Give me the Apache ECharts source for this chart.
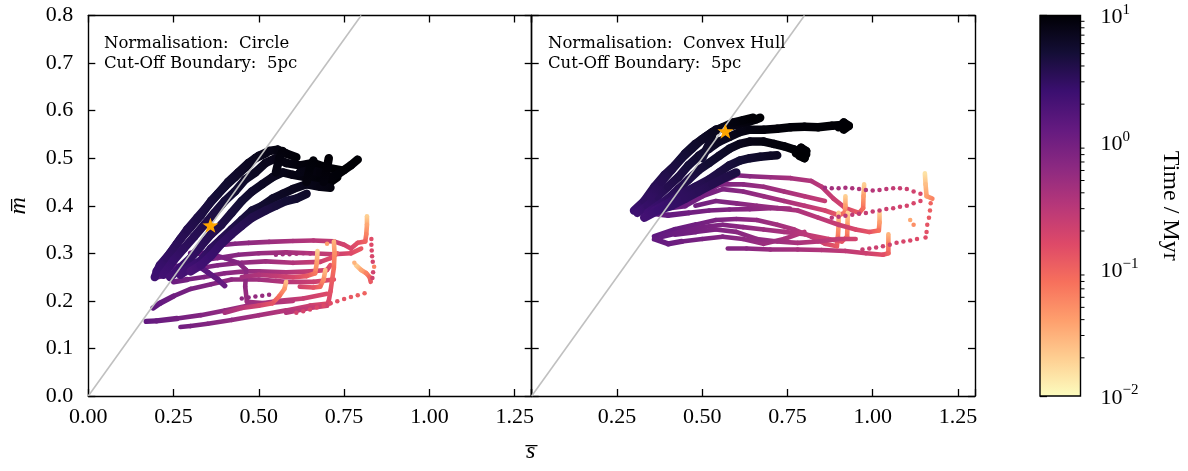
<!DOCTYPE html>
<html><head><meta charset="utf-8">
<script src="https://cdn.jsdelivr.net/npm/echarts@6/dist/echarts.min.js"></script>
<style>html,body{margin:0;padding:0;background:#fff}#c{width:1188px;height:471px}</style>
</head><body><div id="c"></div>
<script>
// ---------------- data (s, m, time [Myr]) ----------------
const xTickValues = [0, 0.25, 0.5, 0.75, 1.0, 1.25];
const yTickValues = [0, 0.1, 0.2, 0.3, 0.4, 0.5, 0.6, 0.7, 0.8];
const cbMajorTicks = [0.01, 0.1, 1, 10];
const cbMinorTicks = [0.02,0.03,0.04,0.05,0.06,0.07,0.08,0.09,0.2,0.3,0.4,0.5,0.6,0.7,0.8,0.9,2,3,4,5,6,7,8,9];
const diagonal = [[0, 0], [0.8, 0.8]];
const starLeft = [[0.358, 0.359]];
const starRight = [[0.568, 0.557]];
const panelLabelsLeft = ['Normalisation:  Circle', 'Cut-Off Boundary:  5pc'];
const panelLabelsRight = ['Normalisation:  Convex Hull', 'Cut-Off Boundary:  5pc'];

const leftMagentaTracks = [
  [[0.817,0.378,0.02],[0.817,0.36,0.035],[0.815,0.34,0.06],[0.812,0.325,0.1],[0.79,0.322,0.14],[0.77,0.31,0.17],[0.75,0.318,0.2],[0.72,0.325,0.25],[0.66,0.327,0.32],[0.60,0.326,0.4],[0.53,0.324,0.5],[0.47,0.322,0.6],[0.43,0.32,0.7],[0.40,0.318,0.8]],
  [[0.80,0.31,0.12],[0.77,0.30,0.16],[0.72,0.298,0.24],[0.65,0.30,0.32],[0.58,0.302,0.42],[0.50,0.30,0.55],[0.44,0.297,0.68],[0.38,0.29,0.8],[0.33,0.285,0.95],[0.28,0.275,1.1],[0.24,0.27,1.3]],
  [[0.73,0.30,0.12],[0.71,0.29,0.16],[0.68,0.282,0.22],[0.60,0.28,0.35],[0.52,0.283,0.48],[0.45,0.28,0.6],[0.38,0.275,0.75],[0.32,0.268,0.9],[0.27,0.26,1.05],[0.23,0.255,1.25],[0.20,0.25,1.45]],
  [[0.71,0.275,0.14],[0.70,0.265,0.18],[0.65,0.262,0.25],[0.58,0.26,0.35],[0.50,0.262,0.48],[0.46,0.262,0.55],[0.40,0.258,0.68],[0.34,0.25,0.82],[0.29,0.245,0.95],[0.25,0.24,1.1]],
  [[0.72,0.245,0.15],[0.66,0.24,0.22],[0.58,0.24,0.33],[0.50,0.245,0.45],[0.42,0.245,0.6],[0.36,0.235,0.75],[0.30,0.225,0.9],[0.25,0.21,1.05],[0.21,0.195,1.25],[0.19,0.185,1.4]],
  [[0.70,0.215,0.16],[0.63,0.205,0.24],[0.56,0.20,0.34],[0.48,0.192,0.45],[0.40,0.18,0.58],[0.33,0.17,0.75],[0.26,0.163,0.95],[0.20,0.158,1.15],[0.17,0.157,1.3]],
  [[0.71,0.195,0.15],[0.65,0.19,0.22],[0.58,0.18,0.32],[0.50,0.17,0.44],[0.42,0.16,0.58],[0.35,0.152,0.75],[0.30,0.147,0.9],[0.27,0.145,1.0]],
  [[0.60,0.20,0.3],[0.52,0.195,0.42],[0.465,0.198,0.5],[0.46,0.23,0.58],[0.463,0.265,0.65],[0.44,0.28,0.72],[0.40,0.29,0.82],[0.35,0.30,0.95],[0.30,0.30,1.1]],
  [[0.58,0.24,0.025],[0.575,0.225,0.045],[0.56,0.21,0.08],[0.54,0.195,0.13],[0.50,0.19,0.2],[0.45,0.185,0.3],[0.40,0.175,0.42]],
  [[0.672,0.305,0.02],[0.67,0.28,0.04],[0.665,0.258,0.07],[0.64,0.252,0.12],[0.60,0.25,0.18],[0.55,0.252,0.26],[0.50,0.255,0.35],[0.45,0.25,0.45]],
  [[0.695,0.265,0.025],[0.69,0.245,0.05],[0.68,0.23,0.09],[0.66,0.228,0.13],[0.62,0.23,0.2]],
  [[0.72,0.325,0.03],[0.722,0.30,0.05],[0.72,0.27,0.08],[0.715,0.245,0.11],[0.71,0.22,0.14],[0.705,0.20,0.17],[0.70,0.19,0.2],[0.65,0.185,0.26],[0.58,0.175,0.35]],
  [[0.785,0.275,0.02],[0.80,0.265,0.035],[0.815,0.258,0.06],[0.825,0.25,0.09],[0.828,0.24,0.12]],
  [[0.40,0.232,1.2],[0.38,0.245,1.3],[0.35,0.26,1.45],[0.32,0.275,1.6],[0.29,0.285,1.8]]
];
const leftDarkTracks = [
  [[0.195,0.25,2.4],[0.21,0.275,2.8],[0.24,0.30,3.2],[0.27,0.33,3.6],[0.30,0.355,4.0],[0.33,0.38,4.5],[0.36,0.41,5],[0.40,0.44,5.6],[0.43,0.46,6.2],[0.46,0.48,6.8],[0.49,0.50,7.4],[0.52,0.51,8]],
  [[0.20,0.262,2.5],[0.23,0.29,2.9],[0.26,0.32,3.3],[0.29,0.35,3.7],[0.32,0.375,4.1],[0.35,0.40,4.5],[0.38,0.425,5],[0.41,0.45,5.5],[0.44,0.47,6],[0.47,0.49,6.6],[0.50,0.505,7.2],[0.53,0.515,7.8],[0.555,0.518,8.4],[0.58,0.51,9],[0.61,0.502,9.5]],
  [[0.22,0.255,2.3],[0.25,0.285,2.7],[0.28,0.31,3.1],[0.31,0.335,3.5],[0.34,0.36,3.9],[0.37,0.385,4.3],[0.40,0.41,4.8],[0.43,0.43,5.3],[0.46,0.455,5.9],[0.49,0.47,6.5],[0.52,0.49,7.1],[0.55,0.50,7.7],[0.58,0.49,8.3],[0.62,0.485,8.9],[0.66,0.49,9.4],[0.70,0.48,9.7],[0.74,0.475,10]],
  [[0.24,0.25,2.2],[0.27,0.27,2.5],[0.30,0.29,2.9],[0.33,0.315,3.3],[0.36,0.34,3.7],[0.39,0.36,4.1],[0.42,0.385,4.6],[0.45,0.41,5.1],[0.48,0.43,5.7],[0.51,0.445,6.3],[0.54,0.46,6.9],[0.57,0.47,7.5],[0.60,0.465,8.1],[0.64,0.46,8.7],[0.68,0.455,9.2],[0.71,0.45,9.6],[0.73,0.46,10]],
  [[0.27,0.255,2.1],[0.30,0.27,2.4],[0.33,0.285,2.7],[0.36,0.31,3.1],[0.39,0.33,3.5],[0.42,0.35,3.9],[0.45,0.37,4.4],[0.48,0.39,4.9],[0.51,0.40,5.4],[0.54,0.415,5.9],[0.57,0.425,6.4],[0.60,0.435,6.9],[0.64,0.445,7.5],[0.68,0.44,8.1],[0.71,0.438,8.7]],
  [[0.30,0.262,2.0],[0.33,0.275,2.3],[0.36,0.295,2.6],[0.39,0.32,2.9],[0.42,0.34,3.2],[0.45,0.358,3.5],[0.48,0.375,3.9],[0.52,0.39,4.3],[0.55,0.40,4.7],[0.58,0.41,5.1],[0.61,0.415,5.5],[0.64,0.425,6]],
  [[0.62,0.47,8],[0.65,0.475,8.5],[0.68,0.47,9],[0.71,0.46,9.3],[0.73,0.465,9.5],[0.75,0.475,9.7],[0.77,0.485,9.9],[0.79,0.497,10]],
  [[0.55,0.47,8],[0.56,0.50,8.6],[0.57,0.515,9]],
  [[0.64,0.45,8.8],[0.65,0.48,9.2],[0.66,0.495,9.5]],
  [[0.69,0.45,9],[0.70,0.48,9.4],[0.705,0.50,9.8]]
];
const leftDots = [
  [0.81,0.216,0.1],[0.79,0.212,0.11],[0.77,0.208,0.12],[0.75,0.204,0.13],[0.73,0.199,0.14],[0.71,0.195,0.15],[0.69,0.19,0.16],[0.67,0.186,0.17],[0.65,0.182,0.18],[0.63,0.178,0.19],[0.61,0.175,0.2],
  [0.83,0.33,0.15],[0.83,0.318,0.16],[0.831,0.306,0.17],[0.832,0.294,0.18],[0.834,0.282,0.19],[0.838,0.272,0.06],[0.835,0.26,0.2],[0.833,0.248,0.21],
  [0.55,0.297,0.5],[0.57,0.298,0.47],[0.59,0.298,0.44],[0.61,0.299,0.41],[0.63,0.30,0.38],[0.65,0.30,0.35],
  [0.45,0.205,0.62],[0.47,0.207,0.59],[0.49,0.209,0.56],[0.51,0.211,0.53],[0.53,0.213,0.5],
  [0.70,0.32,0.04],[0.78,0.28,0.03]
];

const rightMagentaTracks = [
  [[1.046,0.34,0.03],[1.046,0.32,0.06],[1.046,0.30,0.1],[1.03,0.297,0.15],[0.98,0.30,0.22],[0.92,0.305,0.28],[0.85,0.307,0.34],[0.78,0.308,0.42],[0.70,0.308,0.52],[0.63,0.31,0.65],[0.575,0.31,0.75]],
  [[0.975,0.445,0.02],[0.973,0.42,0.04],[0.972,0.395,0.08],[0.96,0.385,0.12],[0.92,0.395,0.18],[0.885,0.415,0.24],[0.85,0.44,0.3],[0.82,0.452,0.35],[0.76,0.458,0.42],[0.70,0.46,0.52],[0.64,0.462,0.64],[0.60,0.464,0.74],[0.56,0.45,0.85],[0.52,0.43,0.95],[0.47,0.415,1.1],[0.42,0.40,1.3]],
  [[0.92,0.42,0.02],[0.92,0.40,0.04],[0.918,0.385,0.07],[0.90,0.38,0.12],[0.86,0.39,0.2],[0.80,0.40,0.3],[0.74,0.41,0.4],[0.68,0.42,0.52],[0.62,0.43,0.65],[0.56,0.435,0.8],[0.50,0.42,0.95],[0.45,0.40,1.1],[0.40,0.395,1.3],[0.35,0.392,1.5],[0.30,0.39,1.7]],
  [[0.90,0.385,0.02],[0.90,0.36,0.04],[0.898,0.335,0.07],[0.895,0.315,0.12],[0.86,0.32,0.2],[0.82,0.335,0.28],[0.77,0.35,0.36],[0.72,0.36,0.45],[0.66,0.37,0.56],[0.60,0.372,0.7],[0.54,0.37,0.85],[0.48,0.36,1.0],[0.42,0.35,1.2],[0.36,0.335,1.4]],
  [[0.927,0.385,0.02],[0.926,0.36,0.04],[0.925,0.335,0.08],[0.91,0.325,0.13],[0.87,0.33,0.2],[0.80,0.34,0.3],[0.74,0.345,0.4],[0.68,0.35,0.5],[0.62,0.355,0.62],[0.56,0.36,0.76],[0.50,0.355,0.9],[0.44,0.345,1.05],[0.38,0.335,1.25]],
  [[1.02,0.385,0.02],[1.02,0.365,0.04],[1.018,0.348,0.08],[0.99,0.345,0.13],[0.95,0.35,0.18],[0.90,0.36,0.24],[0.84,0.375,0.3],[0.78,0.39,0.38],[0.72,0.395,0.47],[0.66,0.40,0.58],[0.60,0.405,0.7],[0.54,0.41,0.85],[0.48,0.40,1.0]],
  [[1.153,0.468,0.015],[1.155,0.445,0.025],[1.158,0.42,0.04],[1.175,0.415,0.06]],
  [[0.80,0.345,0.3],[0.74,0.33,0.4],[0.68,0.32,0.5],[0.62,0.33,0.62],[0.56,0.335,0.75],[0.50,0.33,0.88],[0.44,0.325,1.0],[0.40,0.32,1.15],[0.36,0.33,1.3]],
  [[0.757,0.394,0.45],[0.70,0.395,0.55],[0.64,0.393,0.65],[0.58,0.392,0.78],[0.52,0.39,0.9],[0.46,0.385,1.05],[0.40,0.38,1.25],[0.34,0.385,1.45]],
  [[0.86,0.41,0.25],[0.80,0.42,0.32],[0.74,0.43,0.42],[0.68,0.44,0.52],[0.62,0.445,0.64],[0.56,0.445,0.76],[0.50,0.435,0.9],[0.44,0.42,1.05],[0.38,0.405,1.25],[0.33,0.40,1.45]],
  [[0.95,0.33,0.2],[0.90,0.33,0.25],[0.84,0.325,0.32],[0.78,0.322,0.4],[0.72,0.325,0.48],[0.66,0.33,0.58],[0.60,0.345,0.68],[0.54,0.35,0.8],[0.48,0.345,0.95],[0.42,0.34,1.1]]
];
const rightDarkTracks = [
  [[0.30,0.39,2.5],[0.33,0.41,3],[0.36,0.44,3.5],[0.39,0.465,4],[0.42,0.485,4.6],[0.45,0.51,5.2],[0.48,0.53,5.8],[0.51,0.545,6.4],[0.54,0.56,7],[0.57,0.565,7.6],[0.60,0.57,8.2],[0.63,0.575,8.8],[0.66,0.582,9.4],[0.67,0.585,10]],
  [[0.31,0.385,2.4],[0.34,0.40,2.8],[0.37,0.42,3.2],[0.40,0.44,3.7],[0.43,0.46,4.2],[0.46,0.485,4.8],[0.49,0.505,5.4],[0.52,0.52,6],[0.55,0.535,6.6],[0.58,0.545,7.2],[0.61,0.555,7.8],[0.64,0.56,8.4],[0.68,0.56,9],[0.72,0.562,9.3],[0.76,0.565,9.5],[0.80,0.566,9.6],[0.84,0.565,9.7],[0.88,0.568,9.8],[0.91,0.57,9.9],[0.925,0.567,10]],
  [[0.34,0.385,2.3],[0.37,0.40,2.7],[0.40,0.415,3.1],[0.43,0.435,3.6],[0.46,0.455,4.1],[0.49,0.475,4.7],[0.52,0.49,5.3],[0.55,0.505,5.9],[0.58,0.52,6.5],[0.61,0.53,7.1],[0.64,0.535,7.7],[0.68,0.535,8.3],[0.71,0.53,8.8],[0.74,0.525,9.2],[0.77,0.518,9.6],[0.79,0.512,9.8],[0.805,0.508,10]],
  [[0.36,0.39,2.3],[0.40,0.405,2.7],[0.44,0.425,3.1],[0.48,0.44,3.5],[0.52,0.455,3.9],[0.55,0.47,4.3],[0.58,0.485,4.7],[0.61,0.495,5.1],[0.64,0.50,5.5],[0.67,0.503,5.9],[0.70,0.505,6.3],[0.72,0.506,6.6]],
  [[0.35,0.42,3],[0.38,0.45,3.6],[0.41,0.475,4.2],[0.44,0.50,4.8],[0.47,0.52,5.5],[0.50,0.54,6.2],[0.53,0.555,7],[0.56,0.565,7.8],[0.59,0.575,8.6],[0.62,0.58,9.2],[0.65,0.585,9.8]],
  [[0.33,0.375,2.2],[0.37,0.39,2.5],[0.41,0.40,2.8],[0.45,0.415,3.1],[0.49,0.43,3.4],[0.53,0.445,3.7],[0.57,0.46,4.0],[0.60,0.47,4.3]],
  [[0.775,0.51,9.7],[0.79,0.522,9.8],[0.805,0.515,9.9],[0.80,0.50,10],[0.785,0.505,10]],
  [[0.90,0.565,9.8],[0.915,0.575,9.9],[0.93,0.568,10],[0.915,0.56,10]],
  [[0.50,0.50,5],[0.52,0.53,6],[0.53,0.55,7]]
];
const rightDots = [
  [1.14,0.425,0.18],[1.12,0.43,0.2],[1.10,0.435,0.22],[1.08,0.437,0.24],[1.06,0.437,0.26],[1.04,0.435,0.28],[1.02,0.433,0.3],[1.00,0.432,0.32],[0.98,0.433,0.34],[0.96,0.435,0.36],[0.94,0.437,0.38],[0.92,0.438,0.4],[0.90,0.437,0.42],[0.88,0.437,0.44],[0.86,0.438,0.46],
  [1.17,0.405,0.1],[1.168,0.39,0.11],[1.165,0.375,0.12],[1.16,0.36,0.13],[1.158,0.345,0.14],[1.155,0.333,0.15],
  [1.13,0.33,0.16],[1.11,0.327,0.17],[1.09,0.325,0.18],[1.07,0.322,0.19],[1.05,0.318,0.2],[1.03,0.315,0.21],[1.01,0.312,0.22],[0.99,0.31,0.23],[0.97,0.308,0.24],
  [0.88,0.375,0.3],[0.90,0.377,0.29],[0.92,0.379,0.28],[0.94,0.381,0.27],[0.96,0.383,0.26],[0.98,0.385,0.25],[1.00,0.388,0.24],[1.02,0.39,0.23],[1.04,0.393,0.22],[1.06,0.395,0.21],[1.08,0.398,0.2],[1.10,0.40,0.19],[1.12,0.405,0.18],[1.14,0.41,0.17],
  [1.11,0.37,0.035],[1.12,0.36,0.05]
];

// ---------------- styling helpers ----------------
const F = '"Liberation Serif", "DejaVu Serif", serif';
const FA = '"DejaVu Serif", serif';
const MAGMA = ['#000004','#140e36','#3b0f70','#641a80','#8c2981','#b73779','#de4968','#f7705c','#fe9f6d','#fecf92','#fcfdbf'];
function hex2rgb(h){return [parseInt(h.substr(1,2),16),parseInt(h.substr(3,2),16),parseInt(h.substr(5,2),16)];}
const MAGMA_RGB = MAGMA.map(hex2rgb);
function magmaAt(f){
  f = Math.max(0, Math.min(1, f)); const x = f * 10; const i = Math.min(9, Math.floor(x)); const r = x - i;
  const a = MAGMA_RGB[i], b = MAGMA_RGB[i+1];
  return 'rgb(' + [0,1,2].map(k => Math.round(a[k] + (b[k]-a[k]) * r)).join(',') + ')';
}
function timeColor(t){ return magmaAt(1 - (Math.log10(t) + 2) / 3); }
function widthFor(t){ return t >= 2 ? 8.5 : (t >= 1 ? 5.4 : 4.6); }

function toSegments(tracks){
  const out = [];
  tracks.forEach(tr => { for (let i = 1; i < tr.length; i++) { const a = tr[i-1], b = tr[i]; out.push([a[0], a[1], b[0], b[1], a[2], b[2]]); } });
  return out;
}
function segRender(params, api){
  const p0 = api.coord([api.value(0), api.value(1)]);
  const p1 = api.coord([api.value(2), api.value(3)]);
  const t0 = api.value(4), t1 = api.value(5);
  let stroke;
  if (Math.abs(p0[0]-p1[0]) + Math.abs(p0[1]-p1[1]) < 0.5) stroke = timeColor(t0);
  else stroke = new echarts.graphic.LinearGradient(p0[0], p0[1], p1[0], p1[1], [{offset:0, color: timeColor(t0)}, {offset:1, color: timeColor(t1)}], true);
  return {type:'line', shape:{x1:p0[0], y1:p0[1], x2:p1[0], y2:p1[1]}, style:{stroke, lineWidth: widthFor(Math.sqrt(t0*t1)), lineCap:'round'}};
}

const AX = {color:'#000', width:1.4};
function xAxisCfg(grid, pos, labels, hideZero){
  return {gridIndex:grid, type:'value', min:0, max:1.3, interval:0.25, position:pos,
    axisLine:{show:true, onZero:false, lineStyle:AX},
    axisTick:{show:true, inside:true, length:7, lineStyle:{color:'#000', width:1.3}},
    axisLabel:{show:labels, margin:10, fontFamily:F, fontSize:22, color:'#000',
      formatter: v => (v > 1.26 || (hideZero && v === 0)) ? '' : v.toFixed(2)},
    splitLine:{show:false}};
}
function yAxisCfg(grid, pos, labels, extra){
  return Object.assign({gridIndex:grid, type:'value', min:0, max:0.8, interval:0.1, position:pos,
    axisLine:{show:true, onZero:false, lineStyle:AX},
    axisTick:{show:true, inside:true, length:7, lineStyle:{color:'#000', width:1.3}},
    axisLabel:{show:labels, margin:15, fontFamily:F, fontSize:22, color:'#000', formatter: v => v.toFixed(1)},
    splitLine:{show:false}}, extra || {});
}
const starPath = 'path://M0,-10L2.35,-3.24L9.51,-3.09L3.8,1.24L5.88,8.09L0,4L-5.88,8.09L-3.8,1.24L-9.51,-3.09L-2.35,-3.24Z';

function panelSeries(xi, yi, tracksM, tracksD, dots, star){
  return [
    {type:'custom', xAxisIndex:xi, yAxisIndex:yi, renderItem:segRender, data: toSegments(tracksM), encode:{x:[0,2], y:[1,3]}, z:2, silent:true},
    {type:'scatter', xAxisIndex:xi, yAxisIndex:yi, data: dots, symbolSize:4.5, itemStyle:{color: p => timeColor(p.data[2]), opacity:1}, z:2, silent:true},
    {type:'custom', xAxisIndex:xi, yAxisIndex:yi, renderItem:segRender, data: toSegments(tracksD), encode:{x:[0,2], y:[1,3]}, z:2, silent:true},
    {type:'line', xAxisIndex:xi, yAxisIndex:yi, data: diagonal, symbol:'none', lineStyle:{color:'#c0c0c0', width:1.6}, z:3, silent:true},
    {type:'scatter', xAxisIndex:xi, yAxisIndex:yi, data: star, symbol: starPath, symbolKeepAspect:true, symbolSize:16, itemStyle:{color:'#ffa500', opacity:1}, z:4, silent:true}
  ];
}

const chart = echarts.init(document.getElementById('c'), null, {renderer:'canvas'});
const titleStyle = {fontFamily:FA, fontSize:16.5, fontWeight:'normal', color:'#000', lineHeight:20};
chart.setOption({
  animation:false,
  backgroundColor:'#fff',
  title:[
    {text: panelLabelsLeft.join('\n'), left:104, top:34, padding:0, textStyle:titleStyle},
    {text: panelLabelsRight.join('\n'), left:548, top:34, padding:0, textStyle:titleStyle},
    {text: 's\u0305', left:526, top:440, padding:0, textStyle:{fontFamily:F, fontSize:24, fontStyle:'italic', fontWeight:'normal', color:'#000'}}
  ],
  grid:[
    {left:88.3, top:15.5, width:443.4, height:380.5, outerBoundsMode:'none'},
    {left:531.7, top:15.5, width:443.3, height:380.5, outerBoundsMode:'none'},
    {left:1040, top:15.5, width:40.5, height:380.5, outerBoundsMode:'none'}
  ],
  xAxis:[
    xAxisCfg(0, 'bottom', true, false),
    xAxisCfg(0, 'top', false, false),
    xAxisCfg(1, 'bottom', true, true),
    xAxisCfg(1, 'top', false, false),
    {gridIndex:2, type:'value', min:0, max:1, show:false}
  ],
  yAxis:[
    yAxisCfg(0, 'left', true, {name:'m\u0305', nameLocation:'middle', nameRotate:90, nameGap:58,
      nameTextStyle:{fontFamily:F, fontSize:24, fontStyle:'italic', color:'#000'}}),
    yAxisCfg(0, 'right', false),
    yAxisCfg(1, 'left', false),
    yAxisCfg(1, 'right', false),
    {gridIndex:2, type:'value', min:-2, max:1, interval:1, position:'right',
      axisLine:{show:false},
      axisTick:{show:true, inside:false, length:7, lineStyle:{color:'#000', width:1.3}},
      axisLabel:{show:true, margin:20, color:'#000',
        formatter: v => '{b|10}{s|' + (v < 0 ? '\u2212' : '') + Math.abs(Math.round(v)) + '}',
        rich:{b:{fontFamily:F, fontSize:22, lineHeight:26, verticalAlign:'bottom', color:'#000'},
              s:{fontFamily:F, fontSize:15, lineHeight:17, verticalAlign:'top', color:'#000'}}},
      splitLine:{show:false},
      name:'Time / Myr', nameLocation:'middle', nameRotate:-90, nameGap:78,
      nameTextStyle:{fontFamily:F, fontSize:24, color:'#000'}}
  ],
  series: [].concat(
    panelSeries(0, 0, leftMagentaTracks, leftDarkTracks, leftDots, starLeft),
    panelSeries(2, 2, rightMagentaTracks, rightDarkTracks, rightDots, starRight),
    [
      {type:'custom', xAxisIndex:4, yAxisIndex:4, data:[[0, Math.log10(cbMajorTicks[0]), 1, Math.log10(cbMajorTicks[cbMajorTicks.length-1])]],
        encode:{x:[0,2], y:[1,3]}, silent:true, z:2,
        renderItem:(params, api) => {
          const tl = api.coord([api.value(0), api.value(3)]);
          const br = api.coord([api.value(2), api.value(1)]);
          return {type:'rect', shape:{x:tl[0], y:tl[1], width:br[0]-tl[0], height:br[1]-tl[1]},
            style:{fill: new echarts.graphic.LinearGradient(0,0,0,1, MAGMA.map((c,i)=>({offset:i/10, color:c}))), stroke:'#000', lineWidth:1.4}};
        }},
      {type:'custom', xAxisIndex:4, yAxisIndex:4, data: cbMinorTicks.map(v => [1, Math.log10(v)]), silent:true, z:3,
        renderItem:(params, api) => {
          const p = api.coord([api.value(0), api.value(1)]);
          return {type:'line', shape:{x1:p[0], y1:p[1], x2:p[0]+4, y2:p[1]}, style:{stroke:'#000', lineWidth:1}};
        }}
    ]
  )
});
</script>
</body></html>
